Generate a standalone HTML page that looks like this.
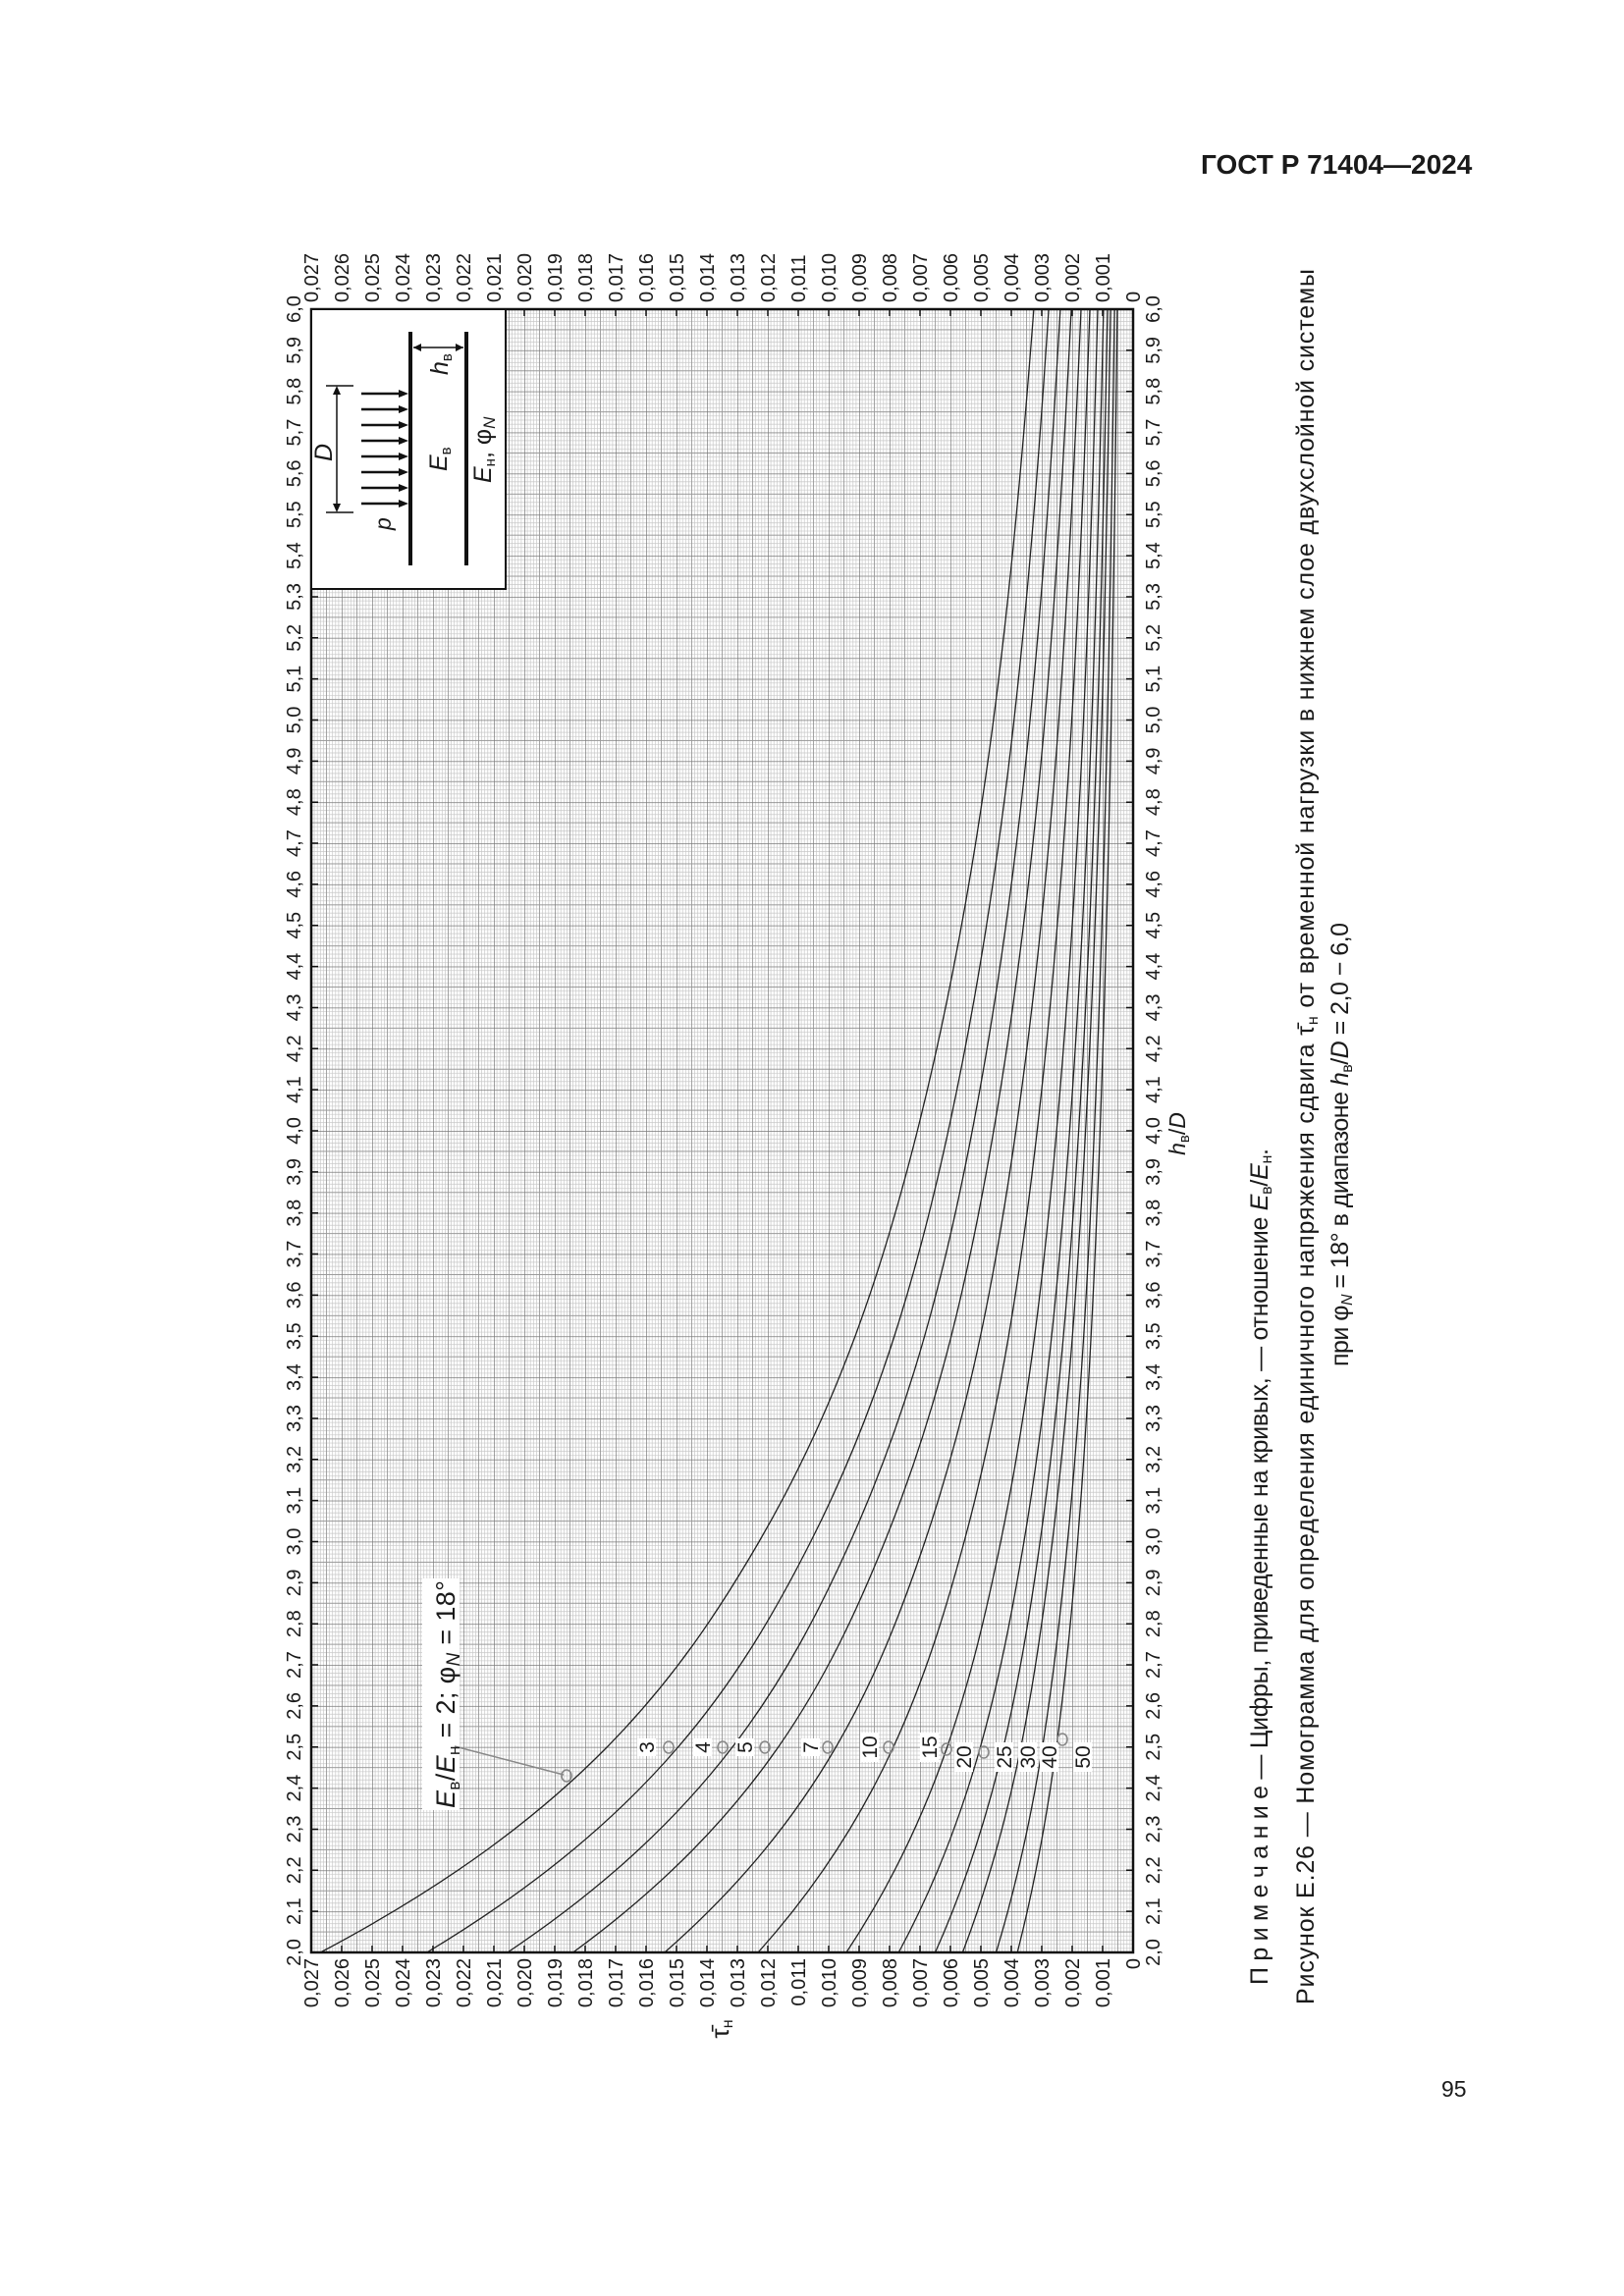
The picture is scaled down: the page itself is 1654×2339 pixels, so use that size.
<!DOCTYPE html>
<html><head><meta charset="utf-8"><style>
html,body{margin:0;padding:0;background:#fff}
svg{display:block}
text{font-family:"Liberation Sans",sans-serif;fill:#1a1a1a}
</style></head><body>
<svg width="1654" height="2339" viewBox="0 0 1654 2339" xmlns="http://www.w3.org/2000/svg">
<defs>
<pattern id="gp" x="317" y="315" width="31" height="41.85" patternUnits="userSpaceOnUse">
<g stroke="#c8c8c8" stroke-width="0.7">
<line x1="3.1" y1="0" x2="3.1" y2="41.85"/><line x1="6.2" y1="0" x2="6.2" y2="41.85"/><line x1="9.3" y1="0" x2="9.3" y2="41.85"/><line x1="12.4" y1="0" x2="12.4" y2="41.85"/><line x1="18.6" y1="0" x2="18.6" y2="41.85"/><line x1="21.7" y1="0" x2="21.7" y2="41.85"/><line x1="24.8" y1="0" x2="24.8" y2="41.85"/><line x1="27.9" y1="0" x2="27.9" y2="41.85"/>
<line y1="4.185" x1="0" y2="4.185" x2="31"/><line y1="8.37" x1="0" y2="8.37" x2="31"/><line y1="12.555" x1="0" y2="12.555" x2="31"/><line y1="16.74" x1="0" y2="16.74" x2="31"/><line y1="25.11" x1="0" y2="25.11" x2="31"/><line y1="29.295" x1="0" y2="29.295" x2="31"/><line y1="33.48" x1="0" y2="33.48" x2="31"/><line y1="37.665" x1="0" y2="37.665" x2="31"/>
</g>
<g stroke="#9a9a9a" stroke-width="0.9">
<line x1="15.5" y1="0" x2="15.5" y2="41.85"/><line x1="0" y1="20.925" x2="31" y2="20.925"/>
</g>
<g stroke="#7a7a7a" stroke-width="1.4">
<line x1="0" y1="0" x2="0" y2="41.85"/><line x1="0" y1="0" x2="31" y2="0"/>
</g>
</pattern>
</defs>
<rect width="1654" height="2339" fill="#fff"/>
<rect x="317" y="315" width="837" height="1674" fill="url(#gp)"/>
<g fill="none" stroke="#222" stroke-width="1.3">
<path d="M326.3,1989 C590.3,1849.5 692.1,1710 773.1,1570.5 C854.1,1431 899.3,1291.5 934.3,1152 C1004.4,873 1031.4,594 1052.9,315"/>
<path d="M434.8,1989 C666.6,1849.5 755.1,1710 825.7,1570.5 C896.3,1431 935.5,1291.5 965.8,1152 C1026.5,873 1049.6,594 1068.1,315"/>
<path d="M516.9,1989 C724.9,1849.5 803.4,1710 866.1,1570.5 C928.8,1431 963.5,1291.5 990.2,1152 C1043.7,873 1063.8,594 1079.9,315"/>
<path d="M583.6,1989 C774.3,1849.5 844.7,1710 901.1,1570.5 C957.5,1431 988.3,1291.5 1012,1152 C1059.5,873 1077.1,594 1091.1,315"/>
<path d="M676.9,1989 C835.9,1849.5 894.9,1710 942,1570.5 C989.1,1431 1014.8,1291.5 1034.7,1152 C1074.5,873 1089.2,594 1101,315"/>
<path d="M772.1,1989 C897.3,1849.5 944.4,1710 982,1570.5 C1019.6,1431 1040.3,1291.5 1056.3,1152 C1088.3,873 1100.4,594 1110,315"/>
<path d="M862,1989 C954.8,1849.5 990.6,1710 1019.2,1570.5 C1047.8,1431 1063.7,1291.5 1076.1,1152 C1100.9,873 1110.4,594 1118,315"/>
<path d="M915.3,1989 C990.3,1849.5 1019.6,1710 1042.9,1570.5 C1066.2,1431 1079.2,1291.5 1089.4,1152 C1109.7,873 1117.6,594 1123.9,315"/>
<path d="M952.5,1989 C1015,1849.5 1039.7,1710 1059.3,1570.5 C1078.9,1431 1090,1291.5 1098.6,1152 C1115.8,873 1122.6,594 1128,315"/>
<path d="M980.4,1989 C1033.7,1849.5 1055,1710 1071.8,1570.5 C1088.6,1431 1098.2,1291.5 1105.6,1152 C1120.5,873 1126.4,594 1131.1,315"/>
<path d="M1014.5,1989 C1056.8,1849.5 1073.8,1710 1087.3,1570.5 C1100.8,1431 1108.5,1291.5 1114.5,1152 C1126.5,873 1131.3,594 1135.1,315"/>
<path d="M1036.2,1989 C1071.7,1849.5 1086.1,1710 1097.5,1570.5 C1108.9,1431 1115.3,1291.5 1120.4,1152 C1130.5,873 1134.7,594 1137.9,315"/>
</g>
<rect x="317" y="315" width="837" height="1674" fill="none" stroke="#111" stroke-width="2.5"/>
<g stroke="#111" stroke-width="7" fill="none">
<line x1="316.25" y1="318.5" x2="1156" y2="318.5" stroke-dasharray="1.5 29.5"/>
<line x1="316.25" y1="1985.5" x2="1156" y2="1985.5" stroke-dasharray="1.5 29.5"/>
<line x1="320.5" y1="314.25" x2="320.5" y2="1991" stroke-dasharray="1.5 40.35"/>
<line x1="1150.5" y1="314.25" x2="1150.5" y2="1991" stroke-dasharray="1.5 40.35"/>
</g>
<g transform="rotate(-90)" font-size="20">
<text x="-308" y="1161">0</text><text x="-308" y="1130">0,001</text><text x="-308" y="1099">0,002</text><text x="-308" y="1068">0,003</text><text x="-308" y="1037">0,004</text><text x="-308" y="1006">0,005</text><text x="-308" y="975">0,006</text><text x="-308" y="944">0,007</text><text x="-308" y="913">0,008</text><text x="-308" y="882">0,009</text><text x="-308" y="851">0,010</text><text x="-308" y="820">0,011</text><text x="-308" y="789">0,012</text><text x="-308" y="758">0,013</text><text x="-308" y="727">0,014</text><text x="-308" y="696">0,015</text><text x="-308" y="665">0,016</text><text x="-308" y="634">0,017</text><text x="-308" y="603">0,018</text><text x="-308" y="572">0,019</text><text x="-308" y="541">0,020</text><text x="-308" y="510">0,021</text><text x="-308" y="479">0,022</text><text x="-308" y="448">0,023</text><text x="-308" y="417">0,024</text><text x="-308" y="386">0,025</text><text x="-308" y="355">0,026</text><text x="-308" y="324">0,027</text>
<g text-anchor="end">
<text x="-1995" y="1161">0</text><text x="-1995" y="1130">0,001</text><text x="-1995" y="1099">0,002</text><text x="-1995" y="1068">0,003</text><text x="-1995" y="1037">0,004</text><text x="-1995" y="1006">0,005</text><text x="-1995" y="975">0,006</text><text x="-1995" y="944">0,007</text><text x="-1995" y="913">0,008</text><text x="-1995" y="882">0,009</text><text x="-1995" y="851">0,010</text><text x="-1995" y="820">0,011</text><text x="-1995" y="789">0,012</text><text x="-1995" y="758">0,013</text><text x="-1995" y="727">0,014</text><text x="-1995" y="696">0,015</text><text x="-1995" y="665">0,016</text><text x="-1995" y="634">0,017</text><text x="-1995" y="603">0,018</text><text x="-1995" y="572">0,019</text><text x="-1995" y="541">0,020</text><text x="-1995" y="510">0,021</text><text x="-1995" y="479">0,022</text><text x="-1995" y="448">0,023</text><text x="-1995" y="417">0,024</text><text x="-1995" y="386">0,025</text><text x="-1995" y="355">0,026</text><text x="-1995" y="324">0,027</text>
</g>
<g text-anchor="middle">
<text y="306" x="-1989">2,0</text><text y="306" x="-1947.15">2,1</text><text y="306" x="-1905.3">2,2</text><text y="306" x="-1863.45">2,3</text><text y="306" x="-1821.6">2,4</text><text y="306" x="-1779.75">2,5</text><text y="306" x="-1737.9">2,6</text><text y="306" x="-1696.05">2,7</text><text y="306" x="-1654.2">2,8</text><text y="306" x="-1612.35">2,9</text><text y="306" x="-1570.5">3,0</text><text y="306" x="-1528.65">3,1</text><text y="306" x="-1486.8">3,2</text><text y="306" x="-1444.95">3,3</text><text y="306" x="-1403.1">3,4</text><text y="306" x="-1361.25">3,5</text><text y="306" x="-1319.4">3,6</text><text y="306" x="-1277.55">3,7</text><text y="306" x="-1235.7">3,8</text><text y="306" x="-1193.85">3,9</text><text y="306" x="-1152">4,0</text><text y="306" x="-1110.15">4,1</text><text y="306" x="-1068.3">4,2</text><text y="306" x="-1026.45">4,3</text><text y="306" x="-984.6">4,4</text><text y="306" x="-942.75">4,5</text><text y="306" x="-900.9">4,6</text><text y="306" x="-859.05">4,7</text><text y="306" x="-817.2">4,8</text><text y="306" x="-775.35">4,9</text><text y="306" x="-733.5">5,0</text><text y="306" x="-691.65">5,1</text><text y="306" x="-649.8">5,2</text><text y="306" x="-607.95">5,3</text><text y="306" x="-566.1">5,4</text><text y="306" x="-524.25">5,5</text><text y="306" x="-482.4">5,6</text><text y="306" x="-440.55">5,7</text><text y="306" x="-398.7">5,8</text><text y="306" x="-356.85">5,9</text><text y="306" x="-315">6,0</text>
<text y="1181" x="-1989">2,0</text><text y="1181" x="-1947.15">2,1</text><text y="1181" x="-1905.3">2,2</text><text y="1181" x="-1863.45">2,3</text><text y="1181" x="-1821.6">2,4</text><text y="1181" x="-1779.75">2,5</text><text y="1181" x="-1737.9">2,6</text><text y="1181" x="-1696.05">2,7</text><text y="1181" x="-1654.2">2,8</text><text y="1181" x="-1612.35">2,9</text><text y="1181" x="-1570.5">3,0</text><text y="1181" x="-1528.65">3,1</text><text y="1181" x="-1486.8">3,2</text><text y="1181" x="-1444.95">3,3</text><text y="1181" x="-1403.1">3,4</text><text y="1181" x="-1361.25">3,5</text><text y="1181" x="-1319.4">3,6</text><text y="1181" x="-1277.55">3,7</text><text y="1181" x="-1235.7">3,8</text><text y="1181" x="-1193.85">3,9</text><text y="1181" x="-1152">4,0</text><text y="1181" x="-1110.15">4,1</text><text y="1181" x="-1068.3">4,2</text><text y="1181" x="-1026.45">4,3</text><text y="1181" x="-984.6">4,4</text><text y="1181" x="-942.75">4,5</text><text y="1181" x="-900.9">4,6</text><text y="1181" x="-859.05">4,7</text><text y="1181" x="-817.2">4,8</text><text y="1181" x="-775.35">4,9</text><text y="1181" x="-733.5">5,0</text><text y="1181" x="-691.65">5,1</text><text y="1181" x="-649.8">5,2</text><text y="1181" x="-607.95">5,3</text><text y="1181" x="-566.1">5,4</text><text y="1181" x="-524.25">5,5</text><text y="1181" x="-482.4">5,6</text><text y="1181" x="-440.55">5,7</text><text y="1181" x="-398.7">5,8</text><text y="1181" x="-356.85">5,9</text><text y="1181" x="-315">6,0</text>
</g>
</g>
<rect x="317" y="315" width="198" height="285" fill="#fff" stroke="#111" stroke-width="2"/>
<g stroke="#111">
<line x1="418" y1="338" x2="418" y2="576" stroke-width="4"/>
<line x1="475" y1="338" x2="475" y2="576" stroke-width="4"/>
<line x1="421" y1="354" x2="472" y2="354" stroke-width="1.5"/>
<line x1="343" y1="396" x2="343" y2="519" stroke-width="1.5"/>
<line x1="332" y1="393" x2="360" y2="393" stroke-width="1.5"/>
<line x1="332" y1="522" x2="360" y2="522" stroke-width="1.5"/>
<g stroke-width="2.5">
<line x1="368" y1="401" x2="410" y2="401"/><line x1="368" y1="417" x2="410" y2="417"/><line x1="368" y1="433" x2="410" y2="433"/><line x1="368" y1="449" x2="410" y2="449"/><line x1="368" y1="465" x2="410" y2="465"/><line x1="368" y1="481" x2="410" y2="481"/><line x1="368" y1="497" x2="410" y2="497"/><line x1="368" y1="513" x2="410" y2="513"/>
</g>
</g>
<g fill="#111">
<polygon points="421,354 429,350 429,358"/><polygon points="472,354 464,350 464,358"/>
<polygon points="343,393 339,402 347,402"/><polygon points="343,522 339,513 347,513"/>
<polygon points="416,401 406,397 406,405"/><polygon points="416,417 406,413 406,421"/><polygon points="416,433 406,429 406,437"/><polygon points="416,449 406,445 406,453"/><polygon points="416,465 406,461 406,469"/><polygon points="416,481 406,477 406,485"/><polygon points="416,497 406,493 406,501"/><polygon points="416,513 406,509 406,517"/>
</g>
<text transform="translate(398,540) rotate(-90)" font-size="23" font-style="italic">p</text>
<text transform="translate(338,470) rotate(-90)" font-size="25" font-style="italic">D</text>
<text transform="translate(455,480) rotate(-90)" font-size="25"><tspan font-style="italic">E</tspan><tspan font-size="15" dy="4">в</tspan></text>
<text transform="translate(456,382) rotate(-90)" font-size="25"><tspan font-style="italic">h</tspan><tspan font-size="15" dy="4">в</tspan></text>
<text transform="translate(500,492) rotate(-90)" font-size="25"><tspan font-style="italic">E</tspan><tspan font-size="15" dy="4">н</tspan><tspan dy="-4">, φ</tspan><tspan font-size="17" dy="4" font-style="italic">N</tspan></text>
<rect x="430" y="1608" width="38" height="236" fill="#fff"/>
<line x1="463" y1="1779" x2="574" y2="1808" stroke="#888" stroke-width="1.5"/>
<text transform="translate(463,1842) rotate(-90)" font-size="27" textLength="232" lengthAdjust="spacing"><tspan font-style="italic">E</tspan><tspan font-size="17" dy="5">в</tspan><tspan dy="-5">/</tspan><tspan font-style="italic">E</tspan><tspan font-size="17" dy="5">н</tspan><tspan dy="-5"> = 2; φ</tspan><tspan font-size="19" dy="5" font-style="italic">N</tspan><tspan dy="-5"> = 18°</tspan></text>
<g fill="#fff">
<rect x="649" y="1771" width="19" height="18"/><rect x="706" y="1771" width="19" height="18"/><rect x="749" y="1771" width="19" height="18"/><rect x="816" y="1771" width="19" height="18"/>
<rect x="876" y="1765" width="19" height="30"/><rect x="937" y="1765" width="19" height="30"/><rect x="972" y="1775" width="19" height="30"/><rect x="1013" y="1775" width="19" height="30"/><rect x="1037" y="1775" width="19" height="30"/><rect x="1059" y="1775" width="19" height="30"/><rect x="1093" y="1775" width="19" height="30"/>
</g>
<g transform="rotate(-90)" font-size="21" text-anchor="middle">
<text x="-1780" y="666">3</text><text x="-1780" y="723">4</text><text x="-1780" y="766">5</text><text x="-1780" y="833">7</text><text x="-1780" y="893">10</text><text x="-1780" y="954">15</text><text x="-1790" y="989">20</text><text x="-1790" y="1030">25</text><text x="-1790" y="1054">30</text><text x="-1790" y="1076">40</text><text x="-1790" y="1110">50</text>
</g>
<g fill="none" stroke="#888" stroke-width="1.6">
<ellipse cx="577" cy="1809" rx="5" ry="6"/><ellipse cx="681" cy="1780" rx="5" ry="6"/><ellipse cx="736" cy="1780" rx="5" ry="6"/><ellipse cx="779" cy="1780" rx="5" ry="6"/><ellipse cx="843" cy="1780" rx="5" ry="6"/><ellipse cx="905" cy="1780" rx="5" ry="6"/><ellipse cx="964" cy="1782" rx="5" ry="6"/><ellipse cx="1002" cy="1785" rx="5" ry="6"/><ellipse cx="1082" cy="1772" rx="5" ry="6"/>
</g>
<text transform="translate(1207,1155) rotate(-90)" font-size="23" text-anchor="middle"><tspan font-style="italic">h</tspan><tspan font-size="15" dy="4">в</tspan><tspan dy="-4">/</tspan><tspan font-style="italic">D</tspan></text>
<text transform="translate(742,2067) rotate(-90)" font-size="26" text-anchor="middle">τ̄<tspan font-size="16" dy="4">н</tspan></text>
<text x="1223" y="177" font-size="28" font-weight="bold">ГОСТ Р 71404—2024</text>
<text x="1468" y="2136" font-size="23">95</text>
<text transform="translate(1291,2022) rotate(-90)" font-size="25" textLength="852" lengthAdjust="spacing">П р и м е ч а н и е — Цифры, приведенные на кривых, — отношение <tspan font-style="italic">E</tspan><tspan font-size="16" dy="4">в</tspan><tspan dy="-4">/</tspan><tspan font-style="italic">E</tspan><tspan font-size="16" dy="4">н</tspan><tspan dy="-4">.</tspan></text>
<text transform="translate(1338,2042) rotate(-90)" font-size="25" textLength="1768" lengthAdjust="spacing">Рисунок Е.26 — Номограмма для определения единичного напряжения сдвига τ̄<tspan font-size="16" dy="4">н</tspan><tspan dy="-4"> от временной нагрузки в нижнем слое двухслойной системы</tspan></text>
<text transform="translate(1373,1392) rotate(-90)" font-size="25" textLength="452" lengthAdjust="spacing">при φ<tspan font-size="16" dy="4" font-style="italic">N</tspan><tspan dy="-4"> = 18° в диапазоне </tspan><tspan font-style="italic">h</tspan><tspan font-size="16" dy="4">в</tspan><tspan dy="-4">/</tspan><tspan font-style="italic">D</tspan> = 2,0 − 6,0</text>
</svg>
</body></html>
